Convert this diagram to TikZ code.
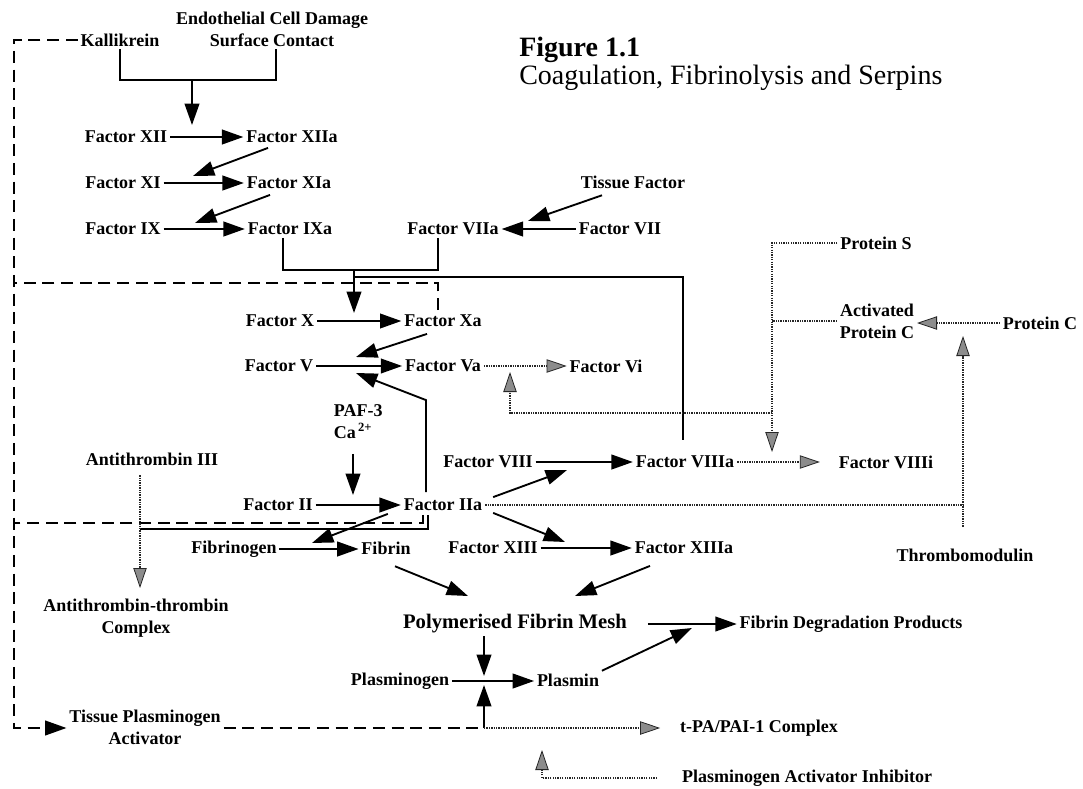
\documentclass[tikz,border=0pt]{standalone}
\usepackage{fontspec}
\setmainfont{Liberation Serif}
\usetikzlibrary{arrows.meta,calc}

\tikzset{
  lbl/.style={font=\bfseries\fontsize{13.5}{16.5}\selectfont,inner sep=2pt,align=center},
  ln/.style={line width=1.4pt},
  arr/.style={line width=1.4pt,-{Triangle[length=16pt,width=11pt]}},
  dsh/.style={line width=1.4pt,dash pattern=on 9pt off 5pt},
  dot/.style={line width=1.2pt,dash pattern=on 1pt off 0.8pt,black!85},
  hatch/.style={dot,-{Triangle[length=15pt,width=10pt,fill=black!45,color=black!85,line width=0.6pt]}},
}

\begin{document}
\begin{tikzpicture}[x=0.75pt,y=0.75pt,yscale=-1,xscale=1]
\useasboundingbox (0,0) rectangle (1083,789);

% Title
\draw (519,64) node [anchor=west,align=left,inner sep=0pt,font=\fontsize{21}{21}\selectfont] (title) {\textbf{Figure 1.1}\\Coagulation, Fibrinolysis and Serpins};

% Text Node
\draw (272,29) node [lbl] (endo) {Endothelial Cell Damage\\Surface Contact};
\draw (120,40) node [lbl] (kal) {Kallikrein};
\draw (126,137) node [lbl] (f12) {Factor XII};
\draw (292,137) node [lbl] (f12a) {Factor XIIa};
\draw (123,183) node [lbl] (f11) {Factor XI};
\draw (289,183) node [lbl] (f11a) {Factor XIa};
\draw (123,229) node [lbl] (f9) {Factor IX};
\draw (290,229) node [lbl] (f9a) {Factor IXa};
\draw (633,182) node [lbl] (tf) {Tissue Factor};
\draw (453,229) node [lbl] (f7a) {Factor VIIa};
\draw (620,229) node [lbl] (f7) {Factor VII};
\draw (280,321) node [lbl] (f10) {Factor X};
\draw (443,321) node [lbl] (f10a) {Factor Xa};
\draw (279,366) node [lbl] (f5) {Factor V};
\draw (443,366) node [lbl] (f5a) {Factor Va};
\draw (606,366) node [lbl] (f5i) {Factor Vi};
\draw (331,422) node [lbl,anchor=west,align=left] (paf) {PAF-3\\Ca\textsuperscript{\,2+}};
\draw (152,459) node [lbl] (at3) {Antithrombin III};
\draw (488,462) node [lbl] (f8) {Factor VIII};
\draw (685,462) node [lbl] (f8a) {Factor VIIIa};
\draw (886,462) node [lbl] (f8i) {Factor VIIIi};
\draw (876,243) node [lbl] (ps) {Protein S};
\draw (877,321) node [lbl] (apc) {Activated\\Protein C};
\draw (1040,323) node [lbl] (pc) {Protein C};
\draw (278,505) node [lbl] (f2) {Factor II};
\draw (443,505) node [lbl] (f2a) {Factor IIa};
\draw (234,549) node [lbl] (fbg) {Fibrinogen};
\draw (386,548) node [lbl] (fbn) {Fibrin};
\draw (493,548) node [lbl] (f13) {Factor XIII};
\draw (684,548) node [lbl] (f13a) {Factor XIIIa};
\draw (965,555) node [lbl] (tm) {Thrombomodulin};
\draw (136,618) node [lbl] (atc) {Antithrombin-thrombin\\Complex};
\draw (515,624) node [lbl,font=\bfseries\fontsize{15.5}{18}\selectfont] (mesh) {Polymerised Fibrin Mesh};
\draw (851,624) node [lbl] (fdp) {Fibrin Degradation Products};
\draw (400,681) node [lbl] (plg) {Plasminogen};
\draw (568,680) node [lbl] (pln) {Plasmin};
\draw (145,727) node [lbl] (tpa) {Tissue Plasminogen\\Activator};
\draw (759,728) node [lbl] (cpx) {t-PA/PAI-1 Complex};
\draw (807,778) node [lbl] (pai) {Plasminogen Activator Inhibitor};

% Joints and arrow ends
\coordinate (jk) at (192,80);
\coordinate (t12) at (192,125);
\coordinate (t11) at (193,176);
\coordinate (t9) at (195,223);
\coordinate (j97) at (354,270);
\coordinate (t10) at (354,313);
\coordinate (j8) at (355,277);
\coordinate (t7) at (528,221);
\coordinate (t5x) at (356,357);
\coordinate (t5y) at (356,373);
\coordinate (t2) at (353,495);
\coordinate (tfb) at (312,543);
\coordinate (t8) at (567,470);
\coordinate (t13) at (565,542);
\coordinate (tm1) at (468,596);
\coordinate (tm2) at (575,596);
\coordinate (tpl) at (484,676);
\coordinate (tpu) at (484,685);
\coordinate (jt) at (484,728);
\coordinate (tfd) at (692,628);
\coordinate (lt) at (14,40);
\coordinate (lb) at (14,728);
\coordinate (l1) at (14,283);
\coordinate (l2) at (14,523);
\coordinate (jat) at (140,529);
\coordinate (tat) at (140,588);
\coordinate (tpai) at (542,750);
\coordinate (t8i) at (772,452);
\coordinate (jps) at (772,413);
\coordinate (tva) at (510,372);
\coordinate (jtm) at (963,505);
\coordinate (tpc) at (963,336);

%Straight Lines: contact activation
\draw [ln] (kal.south) |- (jk) -| ([xshift=3pt]endo.south);
\draw [arr] (jk) -- (t12);
\draw [arr] (f12) -- (f12a);
\draw [arr] ($(f12a.south)+(-24,2)$) -- (t11);
\draw [arr] (f11) -- (f11a);
\draw [arr] ($(f11a.south)+(-19,3)$) -- (t9);
\draw [arr] (f9) -- (f9a);

%Straight Lines: tenase
\draw [ln] ([xshift=-5pt]f9a.south) |- (j97) -| ([xshift=-11pt]f7a.south);
\draw [arr] (j97) -- (t10);
\draw [ln] (j8) -| ($(f8a.north)+(-2,-13)$);
\draw [arr] ($(tf.south)+(-31,4)$) -- (t7);
\draw [arr] (f7) -- (f7a);

%Straight Lines: prothrombinase
\draw [arr] (f10) -- (f10a);
\draw [arr] ($(f10a.south)+(-16,4)$) -- (t5x);
\draw [arr] (f5) -- (f5a);
\draw [arr] ($(f2a.north)+(-17,-4)$) -- ++(0,-92) -- (t5y);
\draw [arr] ($(paf.south -| t2)+(0,12)$) -- (t2);
\draw [arr] (f2) -- (f2a);

%Straight Lines: thrombin
\draw [arr] ($(f2a.south west)+(-13,0)$) -- (tfb);
\draw [arr] (fbg.east) -- (fbg.east -| fbn.west);
\draw [arr] ($(f2a.north east)+(8,1)$) -- (t8);
\draw [arr] (f8) -- (f8a);
\draw [arr] ($(f2a.south east)+(8,-1)$) -- (t13);
\draw [arr] (f13) -- (f13a);
\draw [ln] ($(f2a.south)+(-15,1)$) |- (jat);

%Straight Lines: fibrin and fibrinolysis
\draw [arr] ($(fbn.south)+(9,9)$) -- (tm1);
\draw [arr] ($(f13a.south)+(-34,9)$) -- (tm2);
\draw [arr] ($(mesh.east)+(18,0)$) -- (mesh.east -| fdp.west);
\draw [arr] (pln.north east) -- (tfd);
\draw [arr] (mesh.south -| tpl) -- (tpl);
\draw [arr] (plg.east) -- (plg.east -| pln.west);
\draw [arr] (jt) -- (tpu);

%Dashed Lines
\draw [dsh,-{Triangle[length=16pt,width=11pt]}] (kal.west) -- (lt) -- (lb) -- (tpa.west |- lb);
\draw [dsh] ($(f10a.north)+(-5,-2)$) |- (l1);
\draw [dsh] ($(f2a.south)+(-20,1)$) |- (l2);
\draw [dsh] (tpa.east |- lb) -- (jt);

%Dotted Lines
\draw [hatch] (jt) -- ($(cpx.west)+(-17,0)$);
\draw [hatch] ($(pai.west)+(-22,0)$) -| (tpai);
\draw [hatch] (f5a) -- (f5i);
\draw [hatch] (f8a.east) -- ($(f8i.west)+(-16,0)$);
\draw [hatch] (ps.west) -| (t8i);
\draw [dot] (apc.west) -- (apc.west -| t8i);
\draw [hatch] (jps) -| (tva);
\draw [hatch] (pc.west) -- (pc.west -| apc.east);
\draw [dot] (f2a.east) -- (f2a.east -| jtm);
\draw [hatch] ($(tm.north)+(-2,-19)$) -- (tpc);
\draw [hatch] ($(at3.south)+(-12,7)$) -- (tat);

\end{tikzpicture}
\end{document}
